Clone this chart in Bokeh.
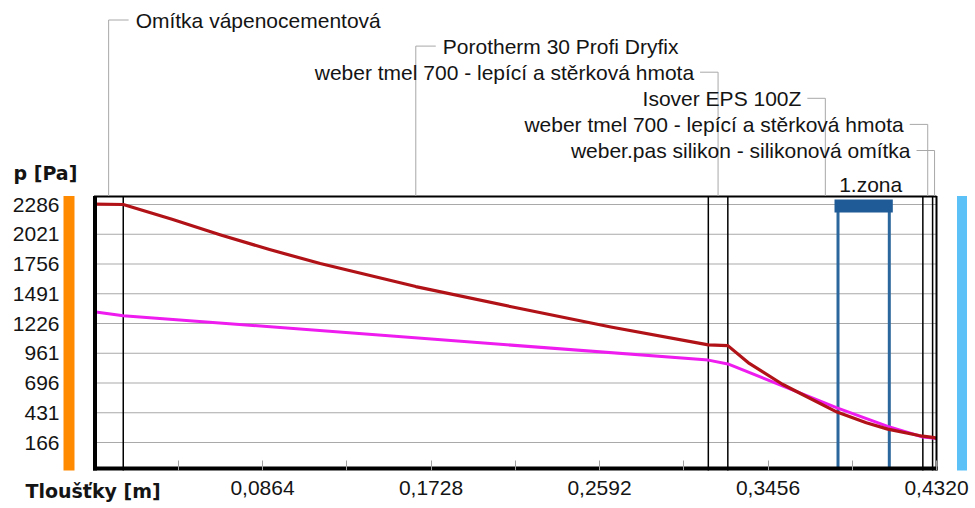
from bokeh.plotting import figure
from bokeh.models import Range1d, FixedTicker
from bokeh.core.properties import value
from bokeh.embed import file_html
from bokeh.resources import INLINE

# Wall assembly, interior side first
layer_names = [
    "Omítka vápenocementová",
    "Porotherm 30 Profi Dryfix",
    "weber tmel 700 - lepící a stěrková hmota",
    "Isover EPS 100Z",
    "weber tmel 700 - lepící a stěrková hmota",
    "weber.pas silikon - silikonová omítka",
]
layer_thickness = [0.015, 0.300, 0.010, 0.100, 0.005, 0.002]

# Condensation zone
zone_label = "1.zona"
zone_x = [0.3815, 0.4078]

# Saturated water vapour pressure through the wall [Pa]
sat_x = [0.000, 0.015, 0.040, 0.065, 0.090, 0.116, 0.165, 0.214, 0.265, 0.315, 0.325,
         0.336, 0.353, 0.362, 0.381, 0.396, 0.407, 0.423, 0.425, 0.430, 0.432]
sat_p = [2289, 2286, 2155, 2015, 1885, 1760, 1555, 1375, 1195, 1035, 1029,
         870, 685, 605, 437, 342, 285, 228, 222, 212, 205]

# Partial water vapour pressure through the wall [Pa]
vap_x = [0.000, 0.015, 0.315, 0.325, 0.381, 0.407, 0.425, 0.430, 0.432]
vap_p = [1330, 1296, 900, 866, 475, 310, 215, 207, 200]

# Axis ticks
p_ticks = [166, 431, 696, 961, 1226, 1491, 1756, 2021, 2286]
x_ticks = [0.0864, 0.1728, 0.2592, 0.3456, 0.4320]
x_tick_labels = ["0,0864", "0,1728", "0,2592", "0,3456", "0,4320"]
x_minor_ticks = [0.0432, 0.1296, 0.2160, 0.3024, 0.3888]

# ---- page geometry (canvas pixels) ----
W, H = 975, 508
AXIS_LEFT_PX = 62                  # where the pressure axis sits
AXIS_BOTTOM_PX = 470               # where the thickness axis sits
X0_PX, X1_PX = 93.5, 936.0         # interior and exterior wall faces
P_TOP_PX, P_BOT_PX = 204.0, 442.0  # highest and lowest pressure tick
BOX_TOP_PX = 195.5

total = sum(layer_thickness)
kx = (X1_PX - X0_PX) / total
ky = (P_BOT_PX - P_TOP_PX) / (p_ticks[-1] - p_ticks[0])


def xd(px):
    return (px - X0_PX) / kx


def yd(py):
    return p_ticks[-1] - (py - P_TOP_PX) / ky


def dx(px):
    return px / kx


p = figure(width=W, height=H, output_backend="svg", toolbar_location=None,
           x_range=Range1d(xd(0), xd(W)), y_range=Range1d(yd(H), yd(0)),
           min_border=0, min_border_left=0, min_border_right=0,
           min_border_top=0, min_border_bottom=0)
p.outline_line_color = None
p.grid.visible = False
p.background_fill_color = "white"
p.border_fill_color = "white"

TXT_FONT = "Liberation Sans"
TXT_SIZE = "21px"
TXT_COLOR = "#141414"
BOLD_FONT = "DejaVu Sans"
BOLD_SIZE = "19px"

# x axis: thickness, pinned to the bottom of the wall section
xa = p.xaxis[0]
xa.fixed_location = yd(AXIS_BOTTOM_PX)
xa.ticker = FixedTicker(ticks=x_ticks, minor_ticks=x_minor_ticks)
xa.major_label_overrides = dict(zip(x_ticks, x_tick_labels))
xa.axis_line_color = None
xa.major_tick_in = 10
xa.major_tick_out = 0
xa.minor_tick_in = 10
xa.minor_tick_out = 0
xa.major_tick_line_color = "#a0a0a0"
xa.minor_tick_line_color = "#a0a0a0"
xa.major_label_text_font = TXT_FONT
xa.major_label_text_font_size = TXT_SIZE
xa.major_label_text_color = TXT_COLOR
xa.major_label_standoff = 10

# y axis: pressure, pinned left of the interior colour bar
ya = p.yaxis[0]
ya.fixed_location = xd(AXIS_LEFT_PX)
ya.ticker = FixedTicker(ticks=p_ticks)
ya.axis_line_color = None
ya.major_tick_in = 0
ya.major_tick_out = 0
ya.minor_tick_in = 0
ya.minor_tick_out = 0
ya.major_label_text_font = TXT_FONT
ya.major_label_text_font_size = TXT_SIZE
ya.major_label_text_color = TXT_COLOR
ya.major_label_standoff = 3

# horizontal grid inside the wall section
p.segment(x0=[0.0] * len(p_ticks), x1=[total] * len(p_ticks), y0=p_ticks, y1=p_ticks,
          line_color="#a9a9a9", line_width=1)

# side colour bars: interior (warm) and exterior (cold)
p.quad(left=xd(63), right=xd(74), bottom=yd(AXIS_BOTTOM_PX), top=yd(BOX_TOP_PX),
       fill_color="#ff8a00", line_color=None)
p.quad(left=xd(956.5), right=xd(966.5), bottom=yd(AXIS_BOTTOM_PX), top=yd(BOX_TOP_PX),
       fill_color="#5cc1f7", line_color=None)

# layer boundaries
bounds = [0.0]
for t in layer_thickness:
    bounds.append(bounds[-1] + t)
inner = bounds[1:-1]
p.segment(x0=inner, x1=inner, y0=[yd(AXIS_BOTTOM_PX)] * len(inner),
          y1=[yd(BOX_TOP_PX)] * len(inner), line_color="black", line_width=1.5)

# condensation zone
p.segment(x0=zone_x, x1=zone_x, y0=[yd(AXIS_BOTTOM_PX - 2)] * 2, y1=[yd(205)] * 2,
          line_color="#2b669c", line_width=3)
p.quad(left=zone_x[0] - dx(3.5), right=zone_x[1] + dx(3.5), top=yd(199), bottom=yd(212),
       fill_color="#1f5b96", line_color=None)
p.text(x=[(zone_x[0] + zone_x[1]) / 2 + dx(7)], y=[yd(183.5)], text=[zone_label],
       text_font=value(TXT_FONT), text_font_size=TXT_SIZE, text_color=TXT_COLOR,
       text_align="center", text_baseline="middle")

# pressure curves
p.line(vap_x, vap_p, line_color="#ee1cee", line_width=3, line_join="round")
p.line(sat_x, sat_p, line_color="#b01217", line_width=3.2, line_join="round")

# section box
p.quad(left=xd(92.5), right=xd(96.5), bottom=yd(AXIS_BOTTOM_PX), top=yd(BOX_TOP_PX),
       fill_color="black", line_color=None)
p.quad(left=xd(92.5), right=xd(937), bottom=yd(AXIS_BOTTOM_PX), top=yd(466),
       fill_color="black", line_color=None)
p.segment(x0=[0.0], x1=[total], y0=[yd(196)], y1=[yd(196)], line_color="black", line_width=2)
p.segment(x0=[total], x1=[total], y0=[yd(AXIS_BOTTOM_PX)], y1=[yd(BOX_TOP_PX)],
          line_color="black", line_width=2)

# layer names with leader lines
text_after_leader = [True, True, False, False, False, False]
lead_xs, lead_ys = [], []
lx_r, ly_r, lt_r = [], [], []
lx_l, ly_l, lt_l = [], [], []
for i, name in enumerate(layer_names):
    mid = bounds[i] + layer_thickness[i] / 2
    row = 19.5 + 26.1 * i
    if text_after_leader[i]:
        lead_xs.append([mid, mid, mid + dx(20)])
        lx_r.append(mid + dx(27))
        ly_r.append(yd(row))
        lt_r.append(name)
    else:
        lead_xs.append([mid, mid, mid - dx(18)])
        lx_l.append(mid - dx(24))
        ly_l.append(yd(row))
        lt_l.append(name)
    lead_ys.append([yd(BOX_TOP_PX), yd(row), yd(row)])

p.multi_line(xs=lead_xs, ys=lead_ys, line_color="#a8a8a8", line_width=1)
p.text(x=lx_r, y=ly_r, text=lt_r, text_font=value(TXT_FONT), text_font_size=TXT_SIZE,
       text_color=TXT_COLOR, text_align="left", text_baseline="middle")
p.text(x=lx_l, y=ly_l, text=lt_l, text_font=value(TXT_FONT), text_font_size=TXT_SIZE,
       text_color=TXT_COLOR, text_align="right", text_baseline="middle")

# axis titles
p.text(x=[xd(13)], y=[yd(172.5)], text=["p [Pa]"], text_font=value(BOLD_FONT),
       text_font_style="bold", text_font_size=BOLD_SIZE, text_color=TXT_COLOR,
       text_align="left", text_baseline="middle")
p.text(x=[xd(25)], y=[yd(490)], text=["Tloušťky [m]"], text_font=value(BOLD_FONT),
       text_font_style="bold", text_font_size=BOLD_SIZE, text_color=TXT_COLOR,
       text_align="left", text_baseline="middle")

open("out.html", "w").write(file_html(p, INLINE))
